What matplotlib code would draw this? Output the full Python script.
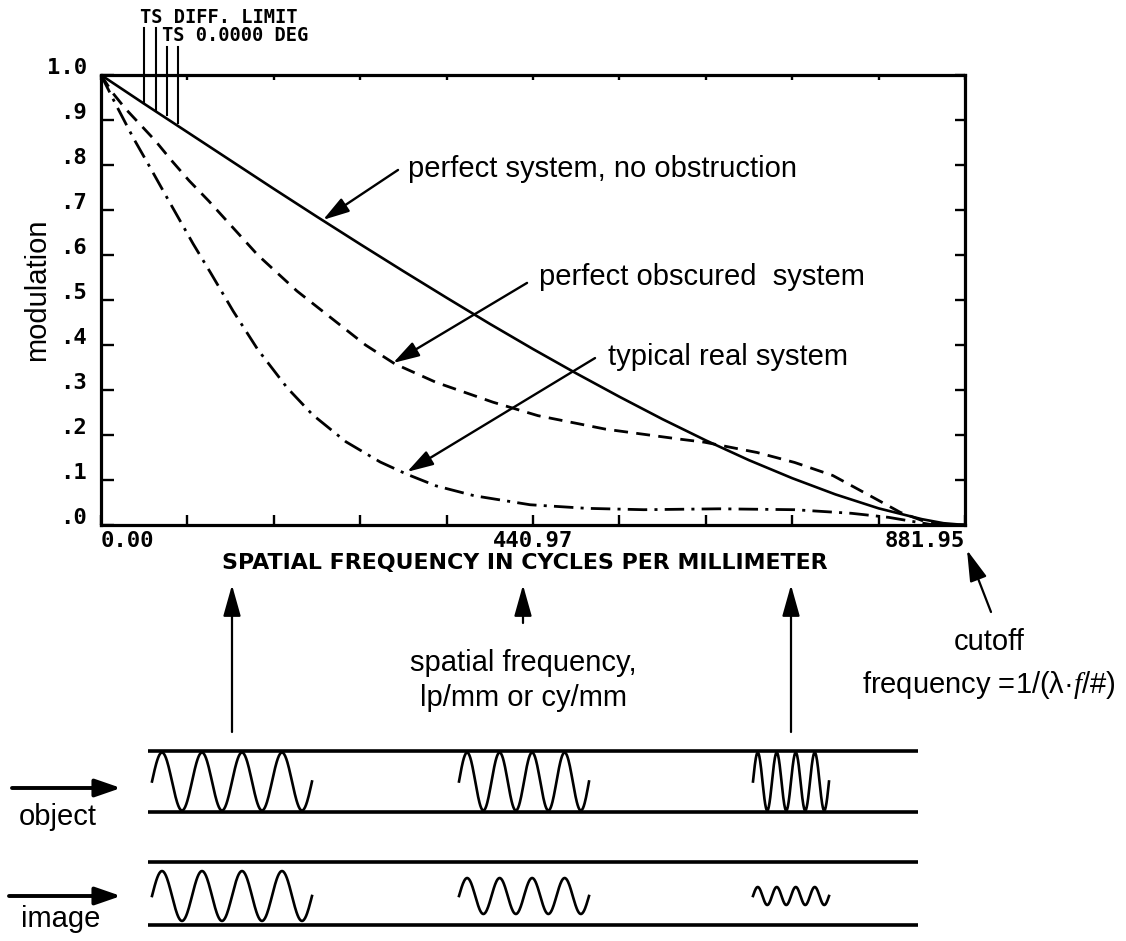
import numpy as np
import matplotlib
matplotlib.use("Agg")
import matplotlib.pyplot as plt
from matplotlib.transforms import ScaledTranslation

plt.rcParams['mathtext.fontset'] = 'custom'
plt.rcParams['mathtext.it'] = 'Liberation Serif:italic'
plt.rcParams['mathtext.rm'] = 'Liberation Sans'

W, H = 1126, 941
CUTOFF = 881.95

# ---------------- data ----------------
freq_perfect = [0, 44.1, 88.2, 132.3, 176.4, 220.5, 264.6, 308.7, 352.8, 396.9, 441.0,
                485.1, 529.2, 573.3, 617.4, 661.5, 705.6, 749.7, 793.8, 837.9, 860.0, 881.95]
mtf_perfect = [1.0, 0.936, 0.873, 0.81, 0.747, 0.685, 0.624, 0.564, 0.505, 0.447, 0.391,
               0.337, 0.285, 0.235, 0.188, 0.144, 0.104, 0.068, 0.037, 0.013, 0.004, 0.0]

freq_obscured = [0, 12, 25, 40, 55, 72, 90, 110, 135, 160, 200, 235, 270, 300, 342, 400,
                 446, 515, 590, 616, 670, 708, 747, 785, 816, 843, 860, 881.95]
mtf_obscured = [1.0, 0.96, 0.925, 0.89, 0.855, 0.81, 0.765, 0.72, 0.66, 0.60, 0.52, 0.46,
                0.40, 0.358, 0.317, 0.273, 0.243, 0.213, 0.191, 0.184, 0.161, 0.139, 0.110,
                0.065, 0.028, 0.006, 0.0, 0.0]

freq_real = [0, 15, 33, 50, 68, 94, 112, 135, 160, 190, 216, 250, 285, 312, 342, 381, 438,
             496, 554, 631, 708, 766, 804, 831, 850, 881.95]
mtf_real = [1.0, 0.935, 0.86, 0.795, 0.725, 0.625, 0.56, 0.475, 0.39, 0.305, 0.245, 0.185,
            0.14, 0.113, 0.087, 0.065, 0.045, 0.037, 0.034, 0.036, 0.034, 0.026, 0.017,
            0.007, 0.0, 0.0]

x_tick_labels = ['0.00', '', '', '', '', '440.97', '', '', '', '', '881.95']
y_tick_values = [0.0, 0.1, 0.2, 0.3, 0.4, 0.5, 0.6, 0.7, 0.8, 0.9, 1.0]
y_tick_labels = ['.0', '.1', '.2', '.3', '.4', '.5', '.6', '.7', '.8', '.9', '1.0']

# "TS DIFF. LIMIT" marker lines (frequency, top, bottom)
ts_freq = [43.9, 56.2, 67.4, 78.6]
ts_top = [1.104, 1.104, 1.062, 1.062]
ts_bottom = [0.938, 0.922, 0.911, 0.893]

# bottom schematic: bar targets
wave_cycles = 4
wave_periods = [40, 32.5, 19]          # px per cycle (low, mid, high frequency)
wave_starts = [152, 459, 753]
object_modulation = [1.0, 1.0, 1.0]
image_modulation = [0.86, 0.62, 0.31]

# ---------------- figure ----------------
fig = plt.figure(figsize=(W / 100, H / 100), dpi=100)
fig.patch.set_facecolor('white')

ax2 = fig.add_axes([0, 0, 1, 1], zorder=0)
ax2.set_xlim(0, W)
ax2.set_ylim(H, 0)
ax2.axis('off')
ax2.patch.set_alpha(0)

ax = fig.add_axes([101 / W, (H - 525) / H, 864 / W, 450 / H], zorder=1)

ax.plot(freq_perfect, mtf_perfect, color='black', lw=1.9)
ax.plot(freq_obscured, mtf_obscured, color='black', lw=2.0, linestyle=(0, (5.0, 3.0)))
ax.plot(freq_real, mtf_real, color='black', lw=2.0, linestyle=(0, (7, 2.6, 1.1, 2.6)))

ax.set_xlim(0, CUTOFF)
ax.set_ylim(0, 1)
for s in ax.spines.values():
    s.set_linewidth(2.3)

mono = dict(family='DejaVu Sans Mono', weight='bold', size=16)

ax.set_xticks(np.linspace(0, CUTOFF, 11))
ax.set_xticklabels(x_tick_labels, fontdict=mono)
ax.set_yticks(y_tick_values)
ax.set_yticklabels(y_tick_labels, fontdict=mono)
ax.tick_params(axis='both', direction='in', width=1.7, length=8,
               top=True, right=True, labeltop=False, labelright=False)
ax.tick_params(axis='x', pad=4)
ax.tick_params(axis='y', pad=10)

xl = ax.get_xticklabels()
xl[0].set_ha('left')
xl[-1].set_ha('right')
off = ScaledTranslation(0, 0.09, fig.dpi_scale_trans)
for lab in ax.get_yticklabels():
    lab.set_transform(lab.get_transform() + off)

for t in ax.xaxis.get_major_ticks():
    t.tick1line.set_markersize(7)
    t.tick2line.set_markersize(3.5)
for t in ax.yaxis.get_major_ticks():
    t.tick1line.set_markersize(9)
    t.tick2line.set_markersize(7)

ax.set_xlabel('SPATIAL FREQUENCY IN CYCLES PER MILLIMETER', family='DejaVu Sans',
              weight='bold', size=15.9)
ax.xaxis.label.set_va('center')
ax.xaxis.set_label_coords((525 - 101) / 864, (525 - 563) / 450)

ax.set_ylabel('modulation', family='Liberation Sans', size=21)
ax.yaxis.label.set_va('center')
ax.yaxis.set_label_coords((37 - 101) / 864, (525 - 290) / 450)

# TS lines
for fx, top, bot in zip(ts_freq, ts_top, ts_bottom):
    ax.plot([fx, fx], [bot, top], color='black', lw=1.5, clip_on=False)
ax2.text(140, 17.5, 'TS DIFF. LIMIT', ha='left', va='center',
         family='DejaVu Sans Mono', weight='bold', size=13.5)
ax2.text(162, 35, 'TS 0.0000 DEG', ha='left', va='center',
         family='DejaVu Sans Mono', weight='bold', size=13.5)

# annotations inside plot
sans = dict(family='Liberation Sans', size=21)
arrow_main = dict(arrowstyle='-|>,head_length=1.0,head_width=0.3', mutation_scale=16,
                  lw=1.7, color='black', shrinkA=0, shrinkB=0)
ax.annotate('', xy=(226.6, 0.678), xytext=(303.2, 0.789), arrowprops=arrow_main)
ax.annotate('', xy=(298.1, 0.360), xytext=(434.9, 0.538), arrowprops=arrow_main)
ax.annotate('', xy=(312.4, 0.118), xytext=(504.3, 0.371), arrowprops=arrow_main)
ax.text(313.4, 0.773, 'perfect system, no obstruction', ha='left', va='baseline', **sans)
ax.text(447.1, 0.533, 'perfect obscured  system', ha='left', va='baseline', **sans)
ax.text(517.5, 0.356, 'typical real system', ha='left', va='baseline', **sans)

# ---------------- lower schematic ----------------
arrow_up = dict(arrowstyle='-|>,head_length=1.6,head_width=0.45', mutation_scale=12,
                lw=1.6, color='black', shrinkA=0, shrinkB=0)
ax2.annotate('', xy=(232, 585), xytext=(232, 732), arrowprops=arrow_up)
ax2.annotate('', xy=(523, 585), xytext=(523, 623), arrowprops=arrow_up)
ax2.annotate('', xy=(791, 585), xytext=(791, 732), arrowprops=arrow_up)
ax2.annotate('', xy=(967, 550), xytext=(991, 612), arrowprops=arrow_up)

ax2.text(523, 671, 'spatial frequency,', ha='center', va='baseline', **sans)
ax2.text(523, 706, 'lp/mm or cy/mm', ha='center', va='baseline', **sans)
ax2.text(989, 650, 'cutoff', ha='center', va='baseline', **sans)
ax2.text(989, 693, r'frequency =1/(λ·$f$/#)', ha='center', va='baseline', **sans)

# target boxes
for yline in [751, 812, 862, 925]:
    ax2.plot([148, 918], [yline, yline], color='black', lw=2.6, solid_capstyle='butt')

obj_mid, img_mid, amp = 781.5, 896, 29
for start, period, mo, mi in zip(wave_starts, wave_periods, object_modulation, image_modulation):
    xs = np.linspace(start, start + wave_cycles * period, 300)
    ph = 2 * np.pi * (xs - start) / period
    ax2.plot(xs, obj_mid - amp * mo * np.sin(ph), color='black', lw=1.9)
    ax2.plot(xs, img_mid - amp * mi * np.sin(ph), color='black', lw=1.9)

arrow_side = dict(arrowstyle='-|>,head_length=1.3,head_width=0.45', mutation_scale=12,
                  lw=2.8, color='black', shrinkA=0, shrinkB=0)
ax2.annotate('', xy=(121, 788), xytext=(12, 788), arrowprops=arrow_side)
ax2.annotate('', xy=(121, 896), xytext=(9, 896), arrowprops=arrow_side)
ax2.text(58, 825, 'object', ha='center', va='baseline', **sans)
ax2.text(61, 927, 'image', ha='center', va='baseline', **sans)

fig.savefig('out.png', dpi=100, facecolor='white')
